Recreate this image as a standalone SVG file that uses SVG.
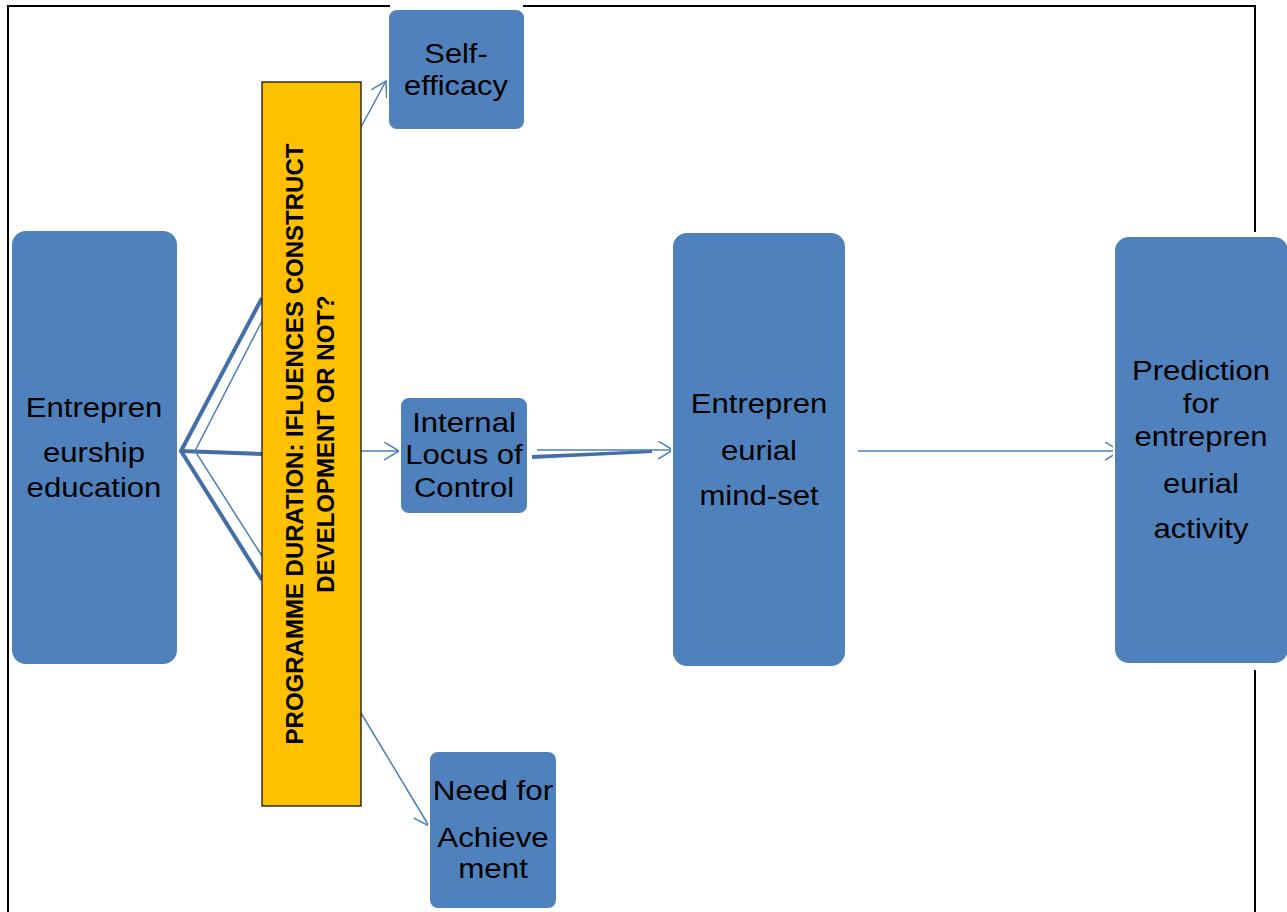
<svg xmlns="http://www.w3.org/2000/svg" width="1287" height="912" viewBox="0 0 1287 912">
<style>
.node{fill:#4F81BD;stroke:#FFFFFF;stroke-width:2}
.lbl{font-family:"Liberation Sans",Arial,sans-serif;font-size:28px;fill:#000;text-anchor:middle}
.vert{font-family:"Liberation Sans",Arial,sans-serif;font-size:24px;font-weight:bold;fill:#000;text-anchor:middle}
.thin{stroke:#4A7EBB;stroke-width:1.5;fill:none}
.thick{stroke:#436FA6;stroke-width:4;fill:none}
.frame{stroke:#000;stroke-width:2;fill:none}
</style>
<defs>
<marker id="arr" markerUnits="userSpaceOnUse" markerWidth="18" markerHeight="20" refX="15" refY="9" orient="auto">
<path d="M0,0 L15,9 L0,18" fill="none" stroke="#4A7EBB" stroke-width="1.5"/>
</marker>
</defs>
<rect width="1287" height="912" fill="#FFFFFF"/>
<g id="frame">
<path class="frame" d="M8,912 V6 H390 M523,6 H1255 V232 M1255,670 V912"/>
</g>
<g id="connectors">
<path class="thick" d="M262,298 L181,451 L262,580"/>
<path class="thick" d="M181,451 L262,454"/>
<path class="thin" d="M262,321 L195,451 L262,556"/>
<line class="thin" x1="361" y1="127" x2="386" y2="81" marker-end="url(#arr)"/>
<line class="thin" x1="361" y1="451" x2="399" y2="451" marker-end="url(#arr)"/>
<line class="thin" x1="361" y1="713" x2="429" y2="826" marker-end="url(#arr)"/>
<line class="thin" x1="537" y1="450" x2="673" y2="450" marker-end="url(#arr)"/>
<path d="M532,455 L652,450 L652,453 L532,459 Z" fill="#436FA6"/>
<line class="thin" x1="858" y1="451" x2="1120" y2="451" marker-end="url(#arr)"/>
</g>
<g id="entrepreneurship-education">
<rect class="node" x="11" y="230" width="167" height="435" rx="15"/>
<text class="lbl" transform="translate(94,0) scale(1.11,1)"><tspan x="0" y="417">Entrepren</tspan><tspan x="0" y="462">eurship</tspan><tspan x="0" y="497">education</tspan></text>
</g>
<g id="programme-duration">
<rect x="262" y="82" width="99" height="724" fill="#FFC000" stroke="#000" stroke-width="1.2"/>
<text class="vert" transform="translate(303,444) rotate(-90)"><tspan x="0" y="0">PROGRAMME DURATION: IFLUENCES CONSTRUCT</tspan><tspan x="0" y="31">DEVELOPMENT OR NOT?</tspan></text>
</g>
<g id="self-efficacy">
<rect class="node" x="388" y="9" width="137" height="121" rx="9"/>
<text class="lbl" transform="translate(456,0) scale(1.1,1)"><tspan x="0" y="63">Self-</tspan><tspan x="0" y="95">efficacy</tspan></text>
</g>
<g id="internal-locus">
<rect class="node" x="400" y="397" width="128" height="117" rx="9"/>
<text class="lbl" transform="translate(464,0) scale(1.11,1)"><tspan x="0" y="432">Internal</tspan><tspan x="0" y="464">Locus of</tspan><tspan x="0" y="497">Control</tspan></text>
</g>
<g id="need-for-achievement">
<rect class="node" x="429" y="751" width="128" height="158" rx="9"/>
<text class="lbl" transform="translate(493,0) scale(1.12,1)"><tspan x="0" y="800">Need for</tspan><tspan x="0" y="847">Achieve</tspan><tspan x="0" y="878">ment</tspan></text>
</g>
<g id="entrepreneurial-mindset">
<rect class="node" x="672" y="232" width="174" height="435" rx="15"/>
<text class="lbl" transform="translate(759,0) scale(1.11,1)"><tspan x="0" y="413">Entrepren</tspan><tspan x="0" y="460">eurial</tspan><tspan x="0" y="505">mind-set</tspan></text>
</g>
<g id="prediction">
<rect class="node" x="1114" y="236" width="175" height="428" rx="15"/>
<text class="lbl" transform="translate(1201,0) scale(1.11,1)"><tspan x="0" y="380">Prediction</tspan><tspan x="0" y="413">for</tspan><tspan x="0" y="446">entrepren</tspan><tspan x="0" y="493">eurial</tspan><tspan x="0" y="538">activity</tspan></text>
</g>
</svg>
